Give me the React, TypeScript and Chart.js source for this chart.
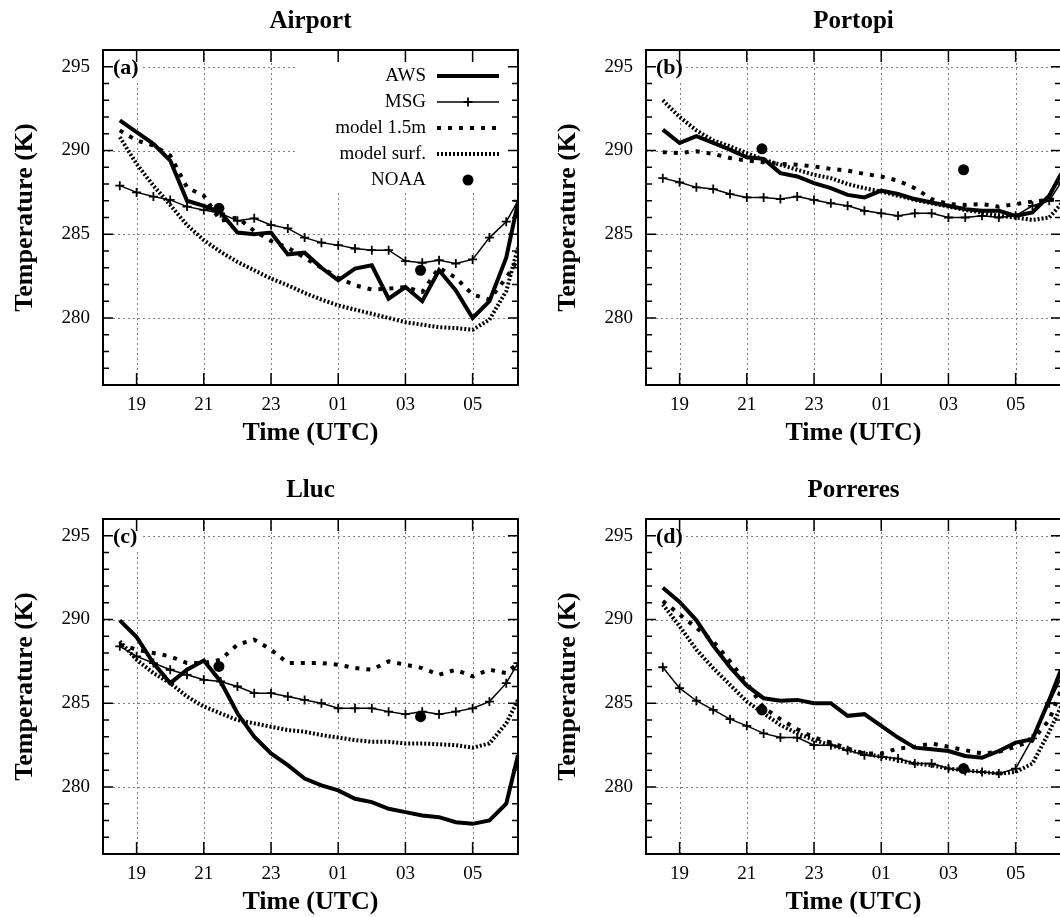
import React, { useEffect, useRef } from "react";
import { Chart, registerables } from "chart.js";

Chart.register(...registerables);

const FONT = "'Liberation Serif', 'Times New Roman', serif";

// ---------- shared axes ----------
const TIMES = [18.5, 19, 19.5, 20, 20.5, 21, 21.5, 22, 22.5, 23, 23.5, 24, 24.5, 25, 25.5, 26, 26.5, 27, 27.5, 28, 28.5, 29, 29.5, 30, 30.35];
const NOAA_TIMES = [21.45, 27.45];
const X_TICKS = [19, 21, 23, 25, 27, 29];
const X_TICK_LABELS = ["19", "21", "23", "01", "03", "05"];
const Y_TICKS = [280, 285, 290, 295];
const X_MIN = 18;
const X_MAX = 30.35;
const Y_MIN = 276;
const Y_MAX = 296;

const SERIES = ["AWS", "MSG", "model 1.5m", "model surf.", "NOAA"];

// ---------- (a) Airport ----------
const AIRPORT_AWS = [291.8, 291.1, 290.4, 289.4, 287.0, 286.7, 286.3, 285.1, 285.0, 285.1, 283.8, 283.9, 283.0, 282.25, 282.95, 283.15, 281.15, 281.85, 281.0, 282.85, 281.65, 280.0, 281.0, 283.6, 286.9];
const AIRPORT_MSG = [287.9, 287.5, 287.25, 287.05, 286.65, 286.45, 286.25, 285.8, 285.95, 285.55, 285.35, 284.8, 284.5, 284.35, 284.15, 284.05, 284.05, 283.4, 283.3, 283.45, 283.25, 283.5, 284.8, 285.75, 287.0];
const AIRPORT_M15 = [291.2, 290.6, 290.3, 289.7, 287.8, 287.3, 285.8, 286.0, 285.2, 284.6, 284.2, 283.6, 283.0, 282.4, 281.95, 281.7, 281.75, 281.85, 281.55, 283.0, 282.4, 281.4, 281.1, 282.4, 283.5];
const AIRPORT_SURF = [290.8, 289.2, 287.9, 286.75, 285.55, 284.65, 283.95, 283.35, 282.85, 282.35, 281.95, 281.5, 281.1, 280.75, 280.5, 280.25, 280.0, 279.75, 279.6, 279.45, 279.4, 279.3, 279.9, 281.6, 284.2];
const AIRPORT_NOAA = [286.55, 282.85];

// ---------- (b) Portopi ----------
const PORTOPI_AWS = [291.25, 290.45, 290.85, 290.45, 290.05, 289.6, 289.5, 288.65, 288.45, 288.05, 287.75, 287.35, 287.2, 287.6, 287.4, 287.1, 286.9, 286.7, 286.5, 286.4, 286.4, 286.1, 286.3, 287.3, 288.6];
const PORTOPI_MSG = [288.35, 288.1, 287.8, 287.7, 287.4, 287.2, 287.2, 287.1, 287.25, 287.05, 286.85, 286.7, 286.4, 286.25, 286.1, 286.25, 286.25, 286.0, 286.0, 286.1, 286.0, 286.1, 286.7, 287.0, 288.1];
const PORTOPI_M15 = [289.9, 289.85, 289.95, 289.8, 289.55, 289.4, 289.3, 289.2, 289.15, 289.05, 288.9, 288.8, 288.6, 288.45, 288.2, 287.75, 287.1, 286.8, 286.75, 286.8, 286.65, 286.8, 286.95, 287.05, 287.1];
const PORTOPI_SURF = [293.0, 292.0, 291.2, 290.6, 290.25, 289.85, 289.45, 289.15, 288.85, 288.55, 288.35, 288.0, 287.75, 287.55, 287.3, 287.05, 286.85, 286.65, 286.45, 286.3, 286.1, 286.0, 285.85, 286.0, 286.8];
const PORTOPI_NOAA = [290.1, 288.85];

// ---------- (c) Lluc ----------
const LLUC_AWS = [289.95, 288.95, 287.4, 286.2, 287.0, 287.55, 286.3, 284.4, 283.0, 282.0, 281.3, 280.5, 280.1, 279.8, 279.3, 279.1, 278.7, 278.5, 278.3, 278.2, 277.9, 277.8, 278.0, 279.0, 281.9];
const LLUC_MSG = [288.4, 287.8, 287.4, 287.0, 286.7, 286.4, 286.3, 286.0, 285.6, 285.6, 285.4, 285.2, 285.0, 284.7, 284.7, 284.7, 284.5, 284.35, 284.5, 284.35, 284.5, 284.7, 285.1, 286.2, 287.4];
const LLUC_M15 = [288.5, 288.2, 288.0, 287.8, 287.4, 287.4, 287.6, 288.5, 288.8, 288.2, 287.4, 287.4, 287.4, 287.3, 287.1, 287.0, 287.5, 287.3, 287.1, 286.7, 287.0, 286.6, 287.0, 286.8, 287.4];
const LLUC_SURF = [288.7, 287.6, 286.8, 286.2, 285.4, 284.8, 284.4, 284.0, 283.8, 283.6, 283.4, 283.3, 283.1, 282.95, 282.8, 282.7, 282.7, 282.6, 282.6, 282.55, 282.5, 282.35, 282.6, 283.8, 285.2];
const LLUC_NOAA = [287.2, 284.2];

// ---------- (d) Porreres ----------
const PORRERES_AWS = [291.9, 291.05, 289.95, 288.45, 287.15, 286.05, 285.3, 285.15, 285.2, 285.0, 285.0, 284.25, 284.35, 283.65, 282.95, 282.35, 282.25, 282.15, 281.85, 281.75, 282.15, 282.65, 282.85, 285.2, 287.0];
const PORRERES_MSG = [287.15, 285.9, 285.15, 284.6, 284.05, 283.65, 283.2, 282.95, 282.95, 282.5, 282.5, 282.2, 281.9, 281.8, 281.7, 281.4, 281.4, 281.1, 280.95, 280.9, 280.8, 281.1, 282.9, 285.0, 286.5];
const PORRERES_M15 = [291.1, 290.3, 289.5, 288.7, 287.5, 286.2, 284.75, 284.05, 283.45, 282.95, 282.65, 282.3, 282.0, 282.0, 282.3, 282.4, 282.6, 282.4, 282.2, 282.0, 282.1, 282.4, 282.8, 284.0, 285.8];
const PORRERES_SURF = [290.9, 289.6, 288.2, 287.1, 286.1, 285.1, 284.4, 283.7, 283.2, 282.8, 282.5, 282.2, 282.0, 281.8, 281.6, 281.4, 281.3, 281.1, 281.0, 280.9, 280.8, 280.9, 281.4, 283.3, 284.8];
const PORRERES_NOAA = [284.6, 281.1];

const PANELS = [
  { title: "Airport", tag: "(a)", aws: AIRPORT_AWS, msg: AIRPORT_MSG, m15: AIRPORT_M15, surf: AIRPORT_SURF, noaa: AIRPORT_NOAA, legend: true },
  { title: "Portopi", tag: "(b)", aws: PORTOPI_AWS, msg: PORTOPI_MSG, m15: PORTOPI_M15, surf: PORTOPI_SURF, noaa: PORTOPI_NOAA, legend: false },
  { title: "Lluc", tag: "(c)", aws: LLUC_AWS, msg: LLUC_MSG, m15: LLUC_M15, surf: LLUC_SURF, noaa: LLUC_NOAA, legend: false },
  { title: "Porreres", tag: "(d)", aws: PORRERES_AWS, msg: PORRERES_MSG, m15: PORRERES_M15, surf: PORRERES_SURF, noaa: PORRERES_NOAA, legend: false },
];

const CW = 543;
const CH = 469;
const POSITIONS = [
  [0, 0],
  [543, 0],
  [0, 469],
  [543, 469],
];

function styleOf(label: string): any {
  switch (label) {
    case "AWS":
      return { borderWidth: 4, borderDash: [] };
    case "MSG":
      return { borderWidth: 1.5, borderDash: [] };
    case "model 1.5m":
      return { borderWidth: 4, borderDash: [4, 7] };
    case "model surf.":
      return { borderWidth: 4, borderDash: [2, 2] };
    default:
      return { borderWidth: 0, borderDash: [] };
  }
}

function drawCross(ctx: CanvasRenderingContext2D, x: number, y: number, r: number) {
  ctx.beginPath();
  ctx.moveTo(x - r, y);
  ctx.lineTo(x + r, y);
  ctx.moveTo(x, y - r);
  ctx.lineTo(x, y + r);
  ctx.stroke();
}

const framePlugin = {
  id: "frame",
  beforeDatasetsDraw(chart: any, _args: any, opts: any) {
    const { ctx, chartArea: a, scales } = chart;
    const sx = scales.x;
    const sy = scales.y;
    ctx.save();
    // dotted grid
    ctx.strokeStyle = "#808080";
    ctx.lineWidth = 1;
    ctx.setLineDash([2, 3]);
    X_TICKS.forEach((v) => {
      const px = Math.round(sx.getPixelForValue(v)) + 0.5;
      ctx.beginPath();
      ctx.moveTo(px, a.bottom);
      ctx.lineTo(px, a.top);
      ctx.stroke();
    });
    Y_TICKS.forEach((v) => {
      const py = Math.round(sy.getPixelForValue(v)) + 0.5;
      ctx.beginPath();
      ctx.moveTo(a.left, py);
      ctx.lineTo(a.right, py);
      ctx.stroke();
    });
    ctx.setLineDash([]);
    // white boxes under tag and legend
    ctx.fillStyle = "#ffffff";
    ctx.fillRect(a.left + 1, a.top + 1, 38, 32);
    if (opts.legend) {
      ctx.fillRect(a.left + 192, a.top + 1, a.right - a.left - 193, 142);
    }
    ctx.restore();
  },
  afterDatasetsDraw(chart: any, _args: any, opts: any) {
    const { ctx, chartArea: a, scales } = chart;
    ctx.save();
    // panel tag
    ctx.fillStyle = "#000";
    ctx.font = `bold 22px ${FONT}`;
    ctx.textAlign = "left";
    ctx.textBaseline = "middle";
    ctx.fillText(opts.tag, a.left + 10, scales.y.getPixelForValue(295) + 2);
    if (opts.legend) {
      ctx.font = `19px ${FONT}`;
      ctx.textAlign = "right";
      const tx = a.right - 92;
      const x1 = a.right - 81;
      const x2 = a.right - 19;
      const xm = (x1 + x2) / 2;
      SERIES.forEach((label, i) => {
        const y = a.top + 26 + i * 26;
        ctx.fillStyle = "#000";
        ctx.fillText(label, tx, y);
        const st = styleOf(label);
        ctx.strokeStyle = "#000";
        if (label === "NOAA") {
          ctx.beginPath();
          ctx.arc(xm, y, 5.5, 0, Math.PI * 2);
          ctx.fill();
          return;
        }
        ctx.lineWidth = st.borderWidth;
        ctx.setLineDash(st.borderDash);
        ctx.beginPath();
        ctx.moveTo(x1, y);
        ctx.lineTo(x2, y);
        ctx.stroke();
        ctx.setLineDash([]);
        if (label === "MSG") {
          ctx.lineWidth = 1.8;
          drawCross(ctx, xm, y, 4.5);
        }
      });
    }
    ctx.restore();
  },
  afterDraw(chart: any) {
    const { ctx, chartArea: a, scales } = chart;
    const sx = scales.x;
    const sy = scales.y;
    ctx.save();
    ctx.strokeStyle = "#000";
    ctx.lineWidth = 1.5;
    ctx.setLineDash([]);
    // x major ticks (bottom & top, inward)
    X_TICKS.forEach((v) => {
      const px = sx.getPixelForValue(v);
      ctx.beginPath();
      ctx.moveTo(px, a.bottom);
      ctx.lineTo(px, a.bottom - 12);
      ctx.moveTo(px, a.top);
      ctx.lineTo(px, a.top + 12);
      ctx.stroke();
    });
    // y ticks (major every 5, minor every 1) left & right
    for (let v = Y_MIN; v <= Y_MAX; v += 1) {
      const py = sy.getPixelForValue(v);
      const len = v % 5 === 0 ? 10 : 6;
      ctx.beginPath();
      ctx.moveTo(a.left, py);
      ctx.lineTo(a.left + len, py);
      ctx.moveTo(a.right, py);
      ctx.lineTo(a.right - len, py);
      ctx.stroke();
    }
    // frame
    ctx.lineWidth = 2;
    ctx.strokeRect(a.left, a.top, a.right - a.left, a.bottom - a.top);
    ctx.restore();
  },
};

function makeConfig(p: any): any {
  const pts = (vals: number[]) => TIMES.map((t, i) => ({ x: t, y: vals[i] }));
  const line = (label: string, vals: number[], extra: any) => ({
    label,
    data: pts(vals),
    borderColor: "#000",
    backgroundColor: "#000",
    fill: false,
    tension: 0,
    pointRadius: 0,
    clip: 0,
    ...styleOf(label),
    ...extra,
  });
  const datasets = [
    {
      label: "NOAA",
      data: NOAA_TIMES.map((t, i) => ({ x: t, y: p.noaa[i] })),
      showLine: false,
      pointStyle: "circle",
      pointRadius: 5.5,
      pointBackgroundColor: "#000",
      pointBorderColor: "#000",
      pointBorderWidth: 0,
      order: 0,
    },
    line("AWS", p.aws, { order: 1 }),
    line("MSG", p.msg, { order: 2, pointStyle: "cross", pointRadius: 4.5, pointBorderWidth: 1.8, pointBorderColor: "#000" }),
    line("model 1.5m", p.m15, { order: 3 }),
    line("model surf.", p.surf, { order: 4 }),
  ];
  return {
    type: "line",
    data: { datasets },
    plugins: [framePlugin],
    options: {
      animation: false,
      responsive: false,
      devicePixelRatio: 1,
      events: [],
      layout: { padding: { left: 0, right: CW - 518, top: 0, bottom: 0 } },
      plugins: {
        legend: { display: false },
        tooltip: { enabled: false },
        title: {
          display: true,
          text: p.title,
          fullSize: false,
          color: "#000",
          font: { family: FONT, size: 25, weight: "bold", lineHeight: 1.2 },
          padding: { top: 7, bottom: 13 },
        },
        frame: { tag: p.tag, legend: p.legend },
      },
      scales: {
        x: {
          type: "linear",
          min: X_MIN,
          max: X_MAX,
          afterBuildTicks: (s: any) => {
            s.ticks = X_TICKS.map((v) => ({ value: v }));
          },
          afterFit: (s: any) => {
            s.height = CH - 385;
          },
          ticks: {
            callback: (_v: any, i: number) => X_TICK_LABELS[i],
            color: "#000",
            font: { family: FONT, size: 19 },
            padding: 9,
            maxRotation: 0,
            autoSkip: false,
          },
          grid: { display: false, drawTicks: false },
          border: { display: false },
          title: {
            display: true,
            text: "Time (UTC)",
            color: "#000",
            font: { family: FONT, size: 26, weight: "bold", lineHeight: 1.2 },
            padding: { top: 0, bottom: 20 },
          },
        },
        y: {
          type: "linear",
          min: Y_MIN,
          max: Y_MAX,
          afterBuildTicks: (s: any) => {
            s.ticks = Y_TICKS.map((v) => ({ value: v }));
          },
          afterFit: (s: any) => {
            s.width = 103;
          },
          ticks: {
            color: "#000",
            font: { family: FONT, size: 19 },
            padding: 13,
          },
          grid: { display: false, drawTicks: false },
          border: { display: false },
          title: {
            display: true,
            text: "Temperature (K)",
            color: "#000",
            font: { family: FONT, size: 26, weight: "bold", lineHeight: 1.2 },
            padding: { top: 10, bottom: 0 },
          },
        },
      },
    },
  };
}

function Panel({ p, left, top }: { p: any; left: number; top: number }) {
  const ref = useRef<HTMLCanvasElement>(null);
  useEffect(() => {
    const chart = new Chart(ref.current as HTMLCanvasElement, makeConfig(p));
    return () => chart.destroy();
  }, [p]);
  return (
    <div style={{ position: "absolute", left, top, width: CW, height: CH }}>
      <canvas ref={ref} width={CW} height={CH} style={{ display: "block", width: CW, height: CH }} />
    </div>
  );
}

export default function App() {
  return (
    <div
      style={{
        position: "absolute",
        left: 0,
        top: 0,
        width: 1060,
        height: 917,
        overflow: "hidden",
        background: "#fff",
      }}
    >
      {PANELS.map((p, i) => (
        <Panel key={p.title} p={p} left={POSITIONS[i][0]} top={POSITIONS[i][1]} />
      ))}
    </div>
  );
}
